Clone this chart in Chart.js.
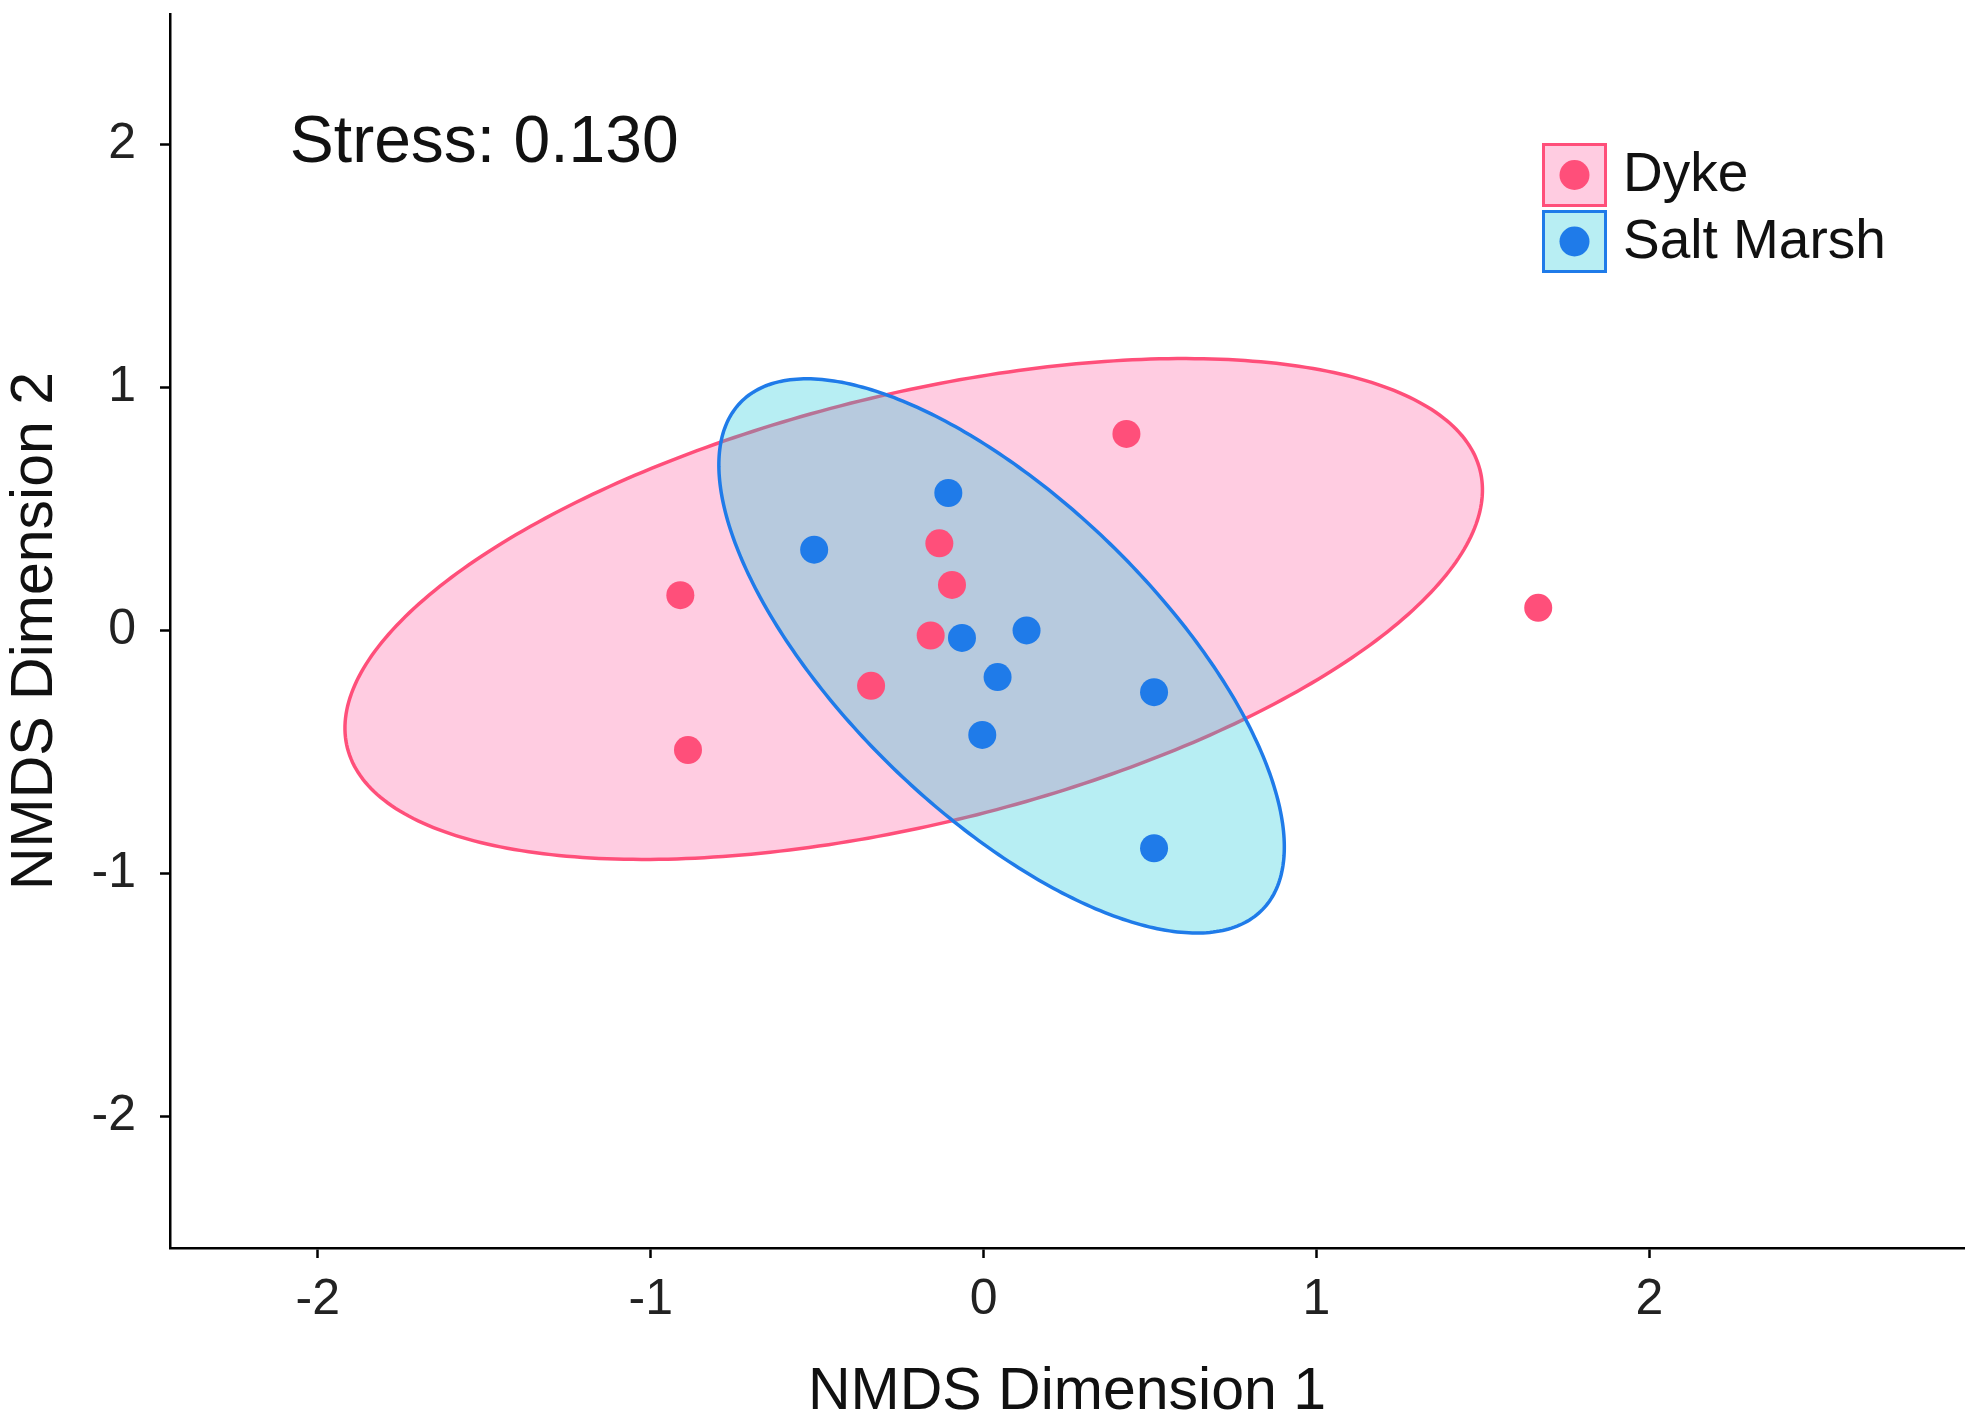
<!DOCTYPE html>
<html>
<head>
<meta charset="utf-8">
<script src="https://cdn.jsdelivr.net/npm/chart.js@4.4.1/dist/chart.umd.min.js"></script>
<style>
  html, body { margin: 0; padding: 0; background: #fff; }
  #wrap { width: 1980px; height: 1422px; }
</style>
</head>
<body>
<div id="wrap"><canvas id="chart" width="1980" height="1422"></canvas></div>
<script>
// NMDS site scores
const dykeX = [0.429, -0.133, -0.095, -0.911, -0.159, -0.338, -0.888, 1.666];
const dykeY = [0.808, 0.358, 0.187, 0.145, -0.021, -0.228, -0.492, 0.093];
const marshX = [-0.106, -0.509, -0.065, 0.129, 0.042, 0.512, -0.004, 0.512];
const marshY = [0.565, 0.332, -0.031, 0.000, -0.192, -0.254, -0.430, -0.896];

// 95% ellipses: centre x, centre y, semi-major, semi-minor, angle (deg)
const dykeEllipse = [-0.21, 0.088, 1.80, 0.86, 21];
const marshEllipse = [0.054, -0.105, 1.318, 0.532, -56.7];

const groupNames = ['Dyke', 'Salt Marsh'];
const xTicks = [-2, -1, 0, 1, 2];
const yTicks = [-2, -1, 0, 1, 2];
const stressLabel = 'Stress: 0.130';
const stressPos = [-1.5, 2];

const FONT = "'Liberation Sans', Arial, sans-serif";
const pink = '#FF4F7A';
const blue = '#1F7BE9';
const pinkFill = '#FFCCE1';
const blueFill = 'rgba(18, 198, 215, 0.3)';
const blueFillSolid = '#B8EEF3';

const toPoints = (xs, ys) => xs.map((x, i) => ({ x: x, y: ys[i] }));

// draws an ellipse given in data units, through the chart scales
function drawEllipse(chart, e, fill, stroke) {
  const sx = chart.scales.x, sy = chart.scales.y;
  const ctx = chart.ctx;
  const th = e[4] * Math.PI / 180;
  ctx.save();
  ctx.beginPath();
  for (let k = 0; k <= 360; k++) {
    const t = k * Math.PI / 180;
    const dx = e[2] * Math.cos(t), dy = e[3] * Math.sin(t);
    const px = sx.getPixelForValue(e[0] + dx * Math.cos(th) - dy * Math.sin(th));
    const py = sy.getPixelForValue(e[1] + dx * Math.sin(th) + dy * Math.cos(th));
    if (k === 0) ctx.moveTo(px, py); else ctx.lineTo(px, py);
  }
  ctx.closePath();
  ctx.fillStyle = fill;
  ctx.fill();
  ctx.lineWidth = 3.5;
  ctx.strokeStyle = stroke;
  ctx.stroke();
  ctx.restore();
}

const ellipsePlugin = {
  id: 'ellipses',
  beforeDatasetsDraw(chart) {
    drawEllipse(chart, dykeEllipse, pinkFill, pink);
    drawEllipse(chart, marshEllipse, blueFill, blue);
  }
};

const annotationPlugin = {
  id: 'notes',
  afterDraw(chart) {
    const ctx = chart.ctx;
    ctx.save();
    // stress value
    ctx.font = '66px ' + FONT;
    ctx.fillStyle = '#111';
    ctx.textAlign = 'center';
    ctx.textBaseline = 'middle';
    ctx.fillText(stressLabel,
      chart.scales.x.getPixelForValue(stressPos[0]),
      chart.scales.y.getPixelForValue(stressPos[1]));

    // legend
    const boxes = [
      { y: 143, h: 64, fill: pinkFill, line: pink },
      { y: 210, h: 63, fill: blueFillSolid, line: blue }
    ];
    ctx.textAlign = 'left';
    ctx.font = '55px ' + FONT;
    boxes.forEach((b, i) => {
      ctx.fillStyle = b.fill;
      ctx.fillRect(1542, b.y, 65, b.h);
      ctx.lineWidth = 3;
      ctx.strokeStyle = b.line;
      ctx.strokeRect(1543.5, b.y + 1.5, 62, b.h - 3);
      ctx.beginPath();
      ctx.arc(1574.5, b.y + b.h / 2, 15, 0, Math.PI * 2);
      ctx.fillStyle = b.line;
      ctx.fill();
      ctx.fillStyle = '#111';
      ctx.fillText(groupNames[i], 1623, b.y + b.h / 2 + 1);
    });
    ctx.restore();
  }
};

const axisCommon = {
  type: 'linear',
  border: { display: true, color: '#000', width: 2.5 },
  grid: { drawOnChartArea: false, drawTicks: true, tickLength: 10, tickWidth: 2.5, tickColor: '#000' },
  ticks: { color: '#222', font: { family: FONT, size: 50 }, callback: v => String(v) }
};

new Chart(document.getElementById('chart').getContext('2d'), {
  type: 'scatter',
  data: {
    datasets: [
      { label: groupNames[0], data: toPoints(dykeX, dykeY), backgroundColor: pink, borderWidth: 0, pointRadius: 14 },
      { label: groupNames[1], data: toPoints(marshX, marshY), backgroundColor: blue, borderWidth: 0, pointRadius: 14 }
    ]
  },
  options: {
    responsive: false,
    animation: false,
    devicePixelRatio: 1,
    layout: { padding: { top: 13, right: 16, left: 0, bottom: 0 } },
    plugins: { legend: { display: false }, tooltip: { enabled: false } },
    scales: {
      x: {
        ...axisCommon,
        min: -2.444, max: 2.945,
        afterBuildTicks: s => { s.ticks = xTicks.map(v => ({ value: v })); },
        afterFit: s => { s.height = 174; s.paddingLeft = 0; s.paddingRight = 0; },
        ticks: { ...axisCommon.ticks, padding: 12, maxRotation: 0 },
        title: { display: true, text: 'NMDS Dimension 1', color: '#111',
                 font: { family: FONT, size: 59, lineHeight: 1 }, padding: 0 }
      },
      y: {
        ...axisCommon,
        min: -2.54, max: 2.535,
        afterBuildTicks: s => { s.ticks = yTicks.map(v => ({ value: v })); },
        afterFit: s => { s.width = 170; s.paddingTop = 0; s.paddingBottom = 0; },
        ticks: { ...axisCommon.ticks, padding: 24 },
        title: { display: true, text: 'NMDS Dimension 2', color: '#111',
                 font: { family: FONT, size: 59, lineHeight: 1 }, padding: { top: 6, bottom: 0 } }
      }
    }
  },
  plugins: [ellipsePlugin, annotationPlugin]
});
</script>
</body>
</html>
